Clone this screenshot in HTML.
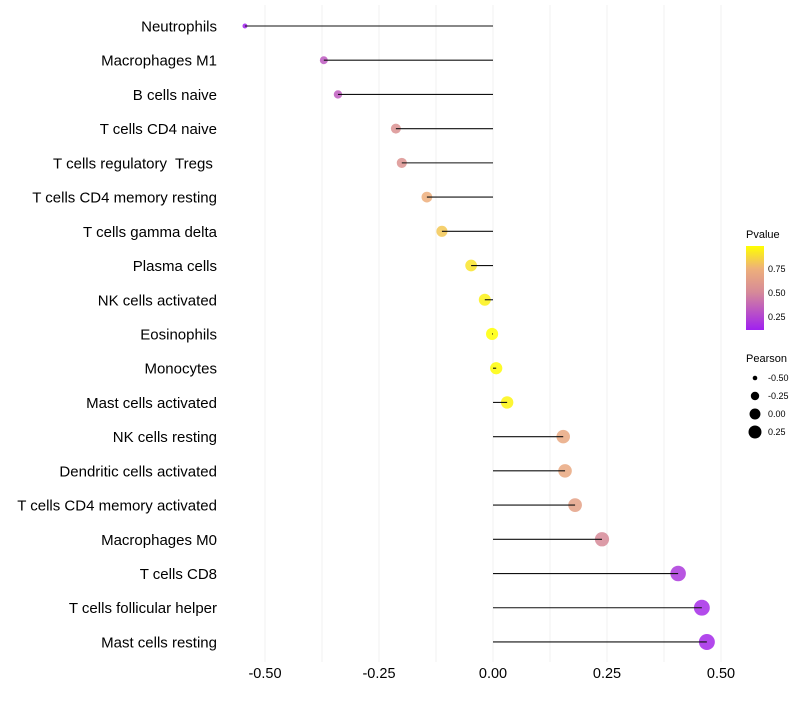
<!DOCTYPE html>
<html><head><meta charset="utf-8"><style>
body{margin:0;background:#fff;font-family:"Liberation Sans",sans-serif}
text{white-space:pre}
</style></head><body>
<svg id="chart" width="800" height="700" xmlns="http://www.w3.org/2000/svg">
<g id="grid"></g><g id="marks"></g><g id="ylab"></g><g id="xlab"></g>
<g id="legend">
<defs><linearGradient id="pg" x1="0" y1="1" x2="0" y2="0">
<stop offset="0" stop-color="#a020f0"/><stop offset="0.45" stop-color="#d68a98"/><stop offset="0.73" stop-color="#eeb07a"/><stop offset="1" stop-color="#ffff00"/></linearGradient></defs>
<text x="746" y="238" font-size="11">Pvalue</text>
<rect x="746" y="246" width="18" height="84" fill="url(#pg)"/>
<text x="768" y="272" font-size="9">0.75</text>
<text x="768" y="296" font-size="9">0.50</text>
<text x="768" y="320" font-size="9">0.25</text>
<text x="746" y="362" font-size="11">Pearson</text>
<g id="sizeleg"></g>
</g>
</svg>
<script>
const categories=["Neutrophils","Macrophages M1","B cells naive","T cells CD4 naive","T cells regulatory  Tregs ","T cells CD4 memory resting","T cells gamma delta","Plasma cells","NK cells activated","Eosinophils","Monocytes","Mast cells activated","NK cells resting","Dendritic cells activated","T cells CD4 memory activated","Macrophages M0","T cells CD8","T cells follicular helper","Mast cells resting"];
const pearson=[-0.544,-0.371,-0.34,-0.213,-0.2,-0.145,-0.112,-0.048,-0.018,-0.002,0.007,0.031,0.154,0.158,0.18,0.239,0.406,0.458,0.469];
const pvalue=[0.08,0.32,0.33,0.55,0.56,0.74,0.82,0.9,0.94,0.98,0.97,0.95,0.7,0.7,0.65,0.5,0.2,0.15,0.14];
const xTicks=[-0.5,-0.25,0,0.25,0.5];
const xTickLabels=["-0.50","-0.25","0.00","0.25","0.50"];
const sizeLegend=[-0.5,-0.25,0,0.25];
const sizeLegendLabels=["-0.50","-0.25","0.00","0.25"];
const NS="http://www.w3.org/2000/svg";
const x=v=>493+v*456;
const y=i=>26+i*34.22;
const r=v=>Math.sqrt(Math.max(2,37+57*v));
const rl=v=>Math.sqrt(Math.max(2,29.8+49*v));
function col(p){const st=[[0.11,[160,32,240]],[0.5,[214,138,152]],[0.75,[238,176,122]],[0.98,[255,255,0]]];
 if(p<=st[0][0])return `rgb(${st[0][1]})`;if(p>=st[3][0])return `rgb(${st[3][1]})`;
 for(let k=0;k<3;k++){if(p<=st[k+1][0]){const t=(p-st[k][0])/(st[k+1][0]-st[k][0]);const c=st[k][1].map((a,j)=>Math.round(a+(st[k+1][1][j]-a)*t));return `rgb(${c})`;}}}
function mk(t,a,parent){const e=document.createElementNS(NS,t);for(const k in a)e.setAttribute(k,a[k]);document.getElementById(parent).appendChild(e);return e;}
for(let v=-0.5;v<=0.501;v+=0.125){const g=mk('line',{x1:x(v),x2:x(v),y1:5,y2:662,stroke:'#f0f0f0','stroke-width':1},'grid');

}
xTicks.forEach((v,i)=>{const t=mk('text',{x:x(v),y:678,'font-size':14.5,'text-anchor':'middle',fill:'#000'},'xlab');t.textContent=xTickLabels[i];

});
categories.forEach((c,i)=>{
 const t=mk('text',{x:217,y:y(i)+5.5,'font-size':15,'text-anchor':'end',fill:'#000'},'ylab');t.textContent=c;
 
 
 const p=mk('circle',{cx:x(pearson[i]),cy:y(i),r:r(pearson[i]),fill:col(pvalue[i]),'fill-opacity':0.85},'marks');
 
 
 const l=mk('line',{x1:x(0),x2:x(pearson[i]),y1:y(i),y2:y(i),stroke:'#111','stroke-width':1.1},'marks');
 
 
});
sizeLegend.forEach((v,i)=>{const cy=378+i*18;
 const c=mk('circle',{cx:755,cy:cy,r:rl(v),fill:'#000'},'sizeleg');
 
 
 const t=mk('text',{x:768,y:cy+3,'font-size':9},'sizeleg');t.textContent=sizeLegendLabels[i];
 
 });
</script>
</body></html>
